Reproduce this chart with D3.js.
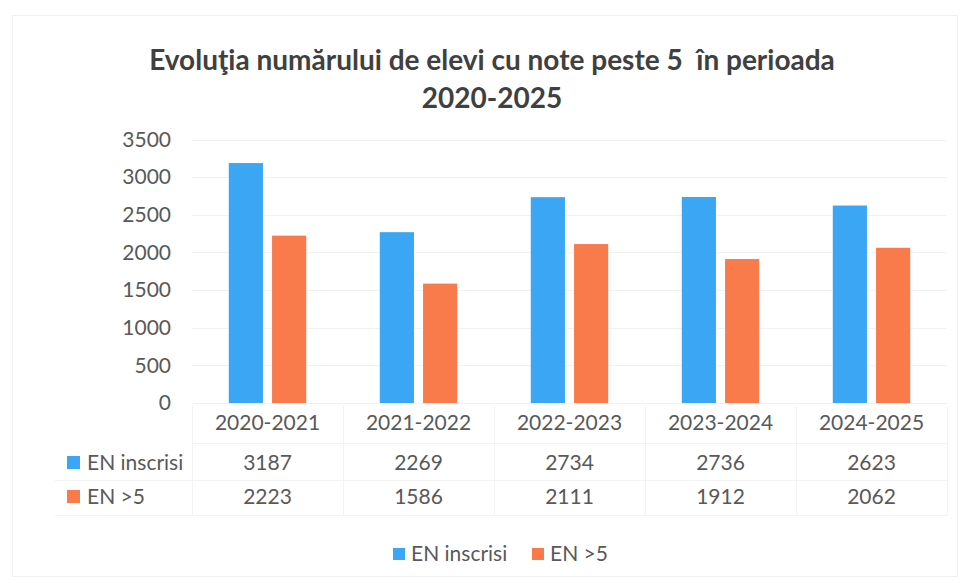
<!DOCTYPE html>
<html>
<head>
<meta charset="utf-8">
<script src="https://cdn.jsdelivr.net/npm/d3@7"></script>
<style>
  html, body { margin: 0; padding: 0; background: #fff; }
  svg text { font-family: Lato, "Open Sans", sans-serif; }
</style>
</head>
<body>
<svg id="chart" width="967" height="583"></svg>
<script>
// values
var categories = ['2020-2021', '2021-2022', '2022-2023', '2023-2024', '2024-2025'];
var seriesNames = ['EN inscrisi', 'EN >5'];
var inscrisi = [3187, 2269, 2734, 2736, 2623];
var peste5 = [2223, 1586, 2111, 1912, 2062];
var yTicks = [0, 500, 1000, 1500, 2000, 2500, 3000, 3500];
var titleLines = ['Evoluţia numărului de elevi cu note peste 5  în perioada', '2020-2025'];

var colors = { 'EN inscrisi': '#3ba6f3', 'EN >5': '#f97b4c' };
var seriesValues = { 'EN inscrisi': inscrisi, 'EN >5': peste5 };

(function() {
    var svg = d3.select('#chart');
    var W = 967, H = 583;
    var plotLeft = 192, plotRight = 947, plotTop = 139.5, plotBottom = 403;
    var fontSize = '21px', textColor = '#595959';

    svg.append('rect')
        .attr('x', 0).attr('y', 0).attr('width', W).attr('height', H)
        .attr('fill', '#fff');

    // chart area border, barely visible
    svg.append('rect')
        .attr('x', 12.5).attr('y', 15.5).attr('width', 945).attr('height', 561)
        .attr('fill', 'none')
        .attr('stroke', '#f0f0f0');

    var x0 = d3.scaleBand().domain(categories).range([plotLeft, plotRight]).padding(0);
    var x1 = d3.scaleBand().domain(seriesNames).range([0, x0.bandwidth()])
        .paddingInner(0.21).paddingOuter(0.85);
    var y = d3.scaleLinear().domain([0, 3500]).range([plotBottom, plotTop]);

    // title
    svg.append('g').selectAll('text')
        .data(titleLines)
        .enter().append('text')
        .attr('x', 492)
        .attr('y', function(d, i) { return 60 + i * 38; })
        .attr('dy', '0.35em')
        .attr('text-anchor', 'middle')
        .attr('font-size', '28px')
        .attr('font-weight', 'bold')
        .attr('fill', '#404040')
        .style('white-space', 'pre')
        .text(function(d) { return d; });

    // gridlines
    svg.append('g').selectAll('line')
        .data(yTicks)
        .enter().append('line')
        .attr('x1', plotLeft).attr('x2', plotRight)
        .attr('y1', function(d) { return Math.round(y(d)) + 0.5; })
        .attr('y2', function(d) { return Math.round(y(d)) + 0.5; })
        .attr('stroke', '#f2f2f2');

    // y axis
    var yAxis = d3.axisLeft(y).tickValues(yTicks).tickFormat(d3.format('d'))
        .tickSize(0).tickPadding(0);
    var gy = svg.append('g')
        .attr('transform', 'translate(171,0)')
        .call(yAxis);
    gy.select('.domain').remove();
    gy.selectAll('text')
        .attr('font-size', fontSize)
        .attr('font-family', 'Lato, "Open Sans", sans-serif')
        .attr('fill', textColor);

    // bars
    seriesNames.forEach(function(name) {
        svg.append('g').selectAll('rect')
            .data(seriesValues[name])
            .enter().append('rect')
            .attr('x', function(d, i) { return x0(categories[i]) + x1(name); })
            .attr('y', function(d) { return y(d); })
            .attr('width', x1.bandwidth())
            .attr('height', function(d) { return y(0) - y(d); })
            .attr('fill', colors[name]);
    });

    // data table
    var rowY = [423, 463, 497];
    var tableTop = 406, tableBottom = 515;
    var table = svg.append('g');

    // vertical cell borders
    table.selectAll('line.v')
        .data(categories.concat(['end']))
        .enter().append('line')
        .attr('class', 'v')
        .attr('x1', function(d, i) { return Math.round(plotLeft + i * x0.bandwidth()) + 0.5; })
        .attr('x2', function(d, i) { return Math.round(plotLeft + i * x0.bandwidth()) + 0.5; })
        .attr('y1', tableTop).attr('y2', tableBottom)
        .attr('stroke', '#f3f3f3');

    // horizontal cell borders
    table.selectAll('line.h')
        .data([443, 480, tableBottom])
        .enter().append('line')
        .attr('class', 'h')
        .attr('x1', function(d, i) { return i === 0 ? plotLeft : 55; })
        .attr('x2', plotRight)
        .attr('y1', function(d) { return d + 0.5; })
        .attr('y2', function(d) { return d + 0.5; })
        .attr('stroke', '#f3f3f3');

    // category labels
    table.selectAll('text.cat')
        .data(categories)
        .enter().append('text')
        .attr('class', 'cat')
        .attr('x', function(d) { return x0(d) + x0.bandwidth() / 2; })
        .attr('y', rowY[0])
        .attr('dy', '0.35em')
        .attr('text-anchor', 'middle')
        .attr('font-size', fontSize)
        .attr('fill', textColor)
        .text(function(d) { return d; });

    seriesNames.forEach(function(name, r) {
        var ry = rowY[r + 1];
        table.append('rect')
            .attr('x', 67).attr('y', ry - 7)
            .attr('width', 13).attr('height', 13)
            .attr('fill', colors[name]);
        table.append('text')
            .attr('x', 87).attr('y', ry)
            .attr('dy', '0.35em')
            .attr('font-size', fontSize)
            .attr('fill', textColor)
            .text(name);
        table.selectAll('text.val' + r)
            .data(seriesValues[name])
            .enter().append('text')
            .attr('class', 'val' + r)
            .attr('x', function(d, i) { return x0(categories[i]) + x0.bandwidth() / 2; })
            .attr('y', ry)
            .attr('dy', '0.35em')
            .attr('text-anchor', 'middle')
            .attr('font-size', fontSize)
            .attr('fill', textColor)
            .text(function(d) { return d; });
    });

    // legend at the bottom
    var legendX = [393, 532];
    var legend = svg.append('g').selectAll('g')
        .data(seriesNames)
        .enter().append('g')
        .attr('transform', function(d, i) { return 'translate(' + legendX[i] + ',554)'; });
    legend.append('rect')
        .attr('x', 0).attr('y', -6)
        .attr('width', 12).attr('height', 12)
        .attr('fill', function(d) { return colors[d]; });
    legend.append('text')
        .attr('x', 18).attr('y', 0)
        .attr('dy', '0.35em')
        .attr('font-size', fontSize)
        .attr('fill', textColor)
        .text(function(d) { return d; });
})();
</script>
</body>
</html>
